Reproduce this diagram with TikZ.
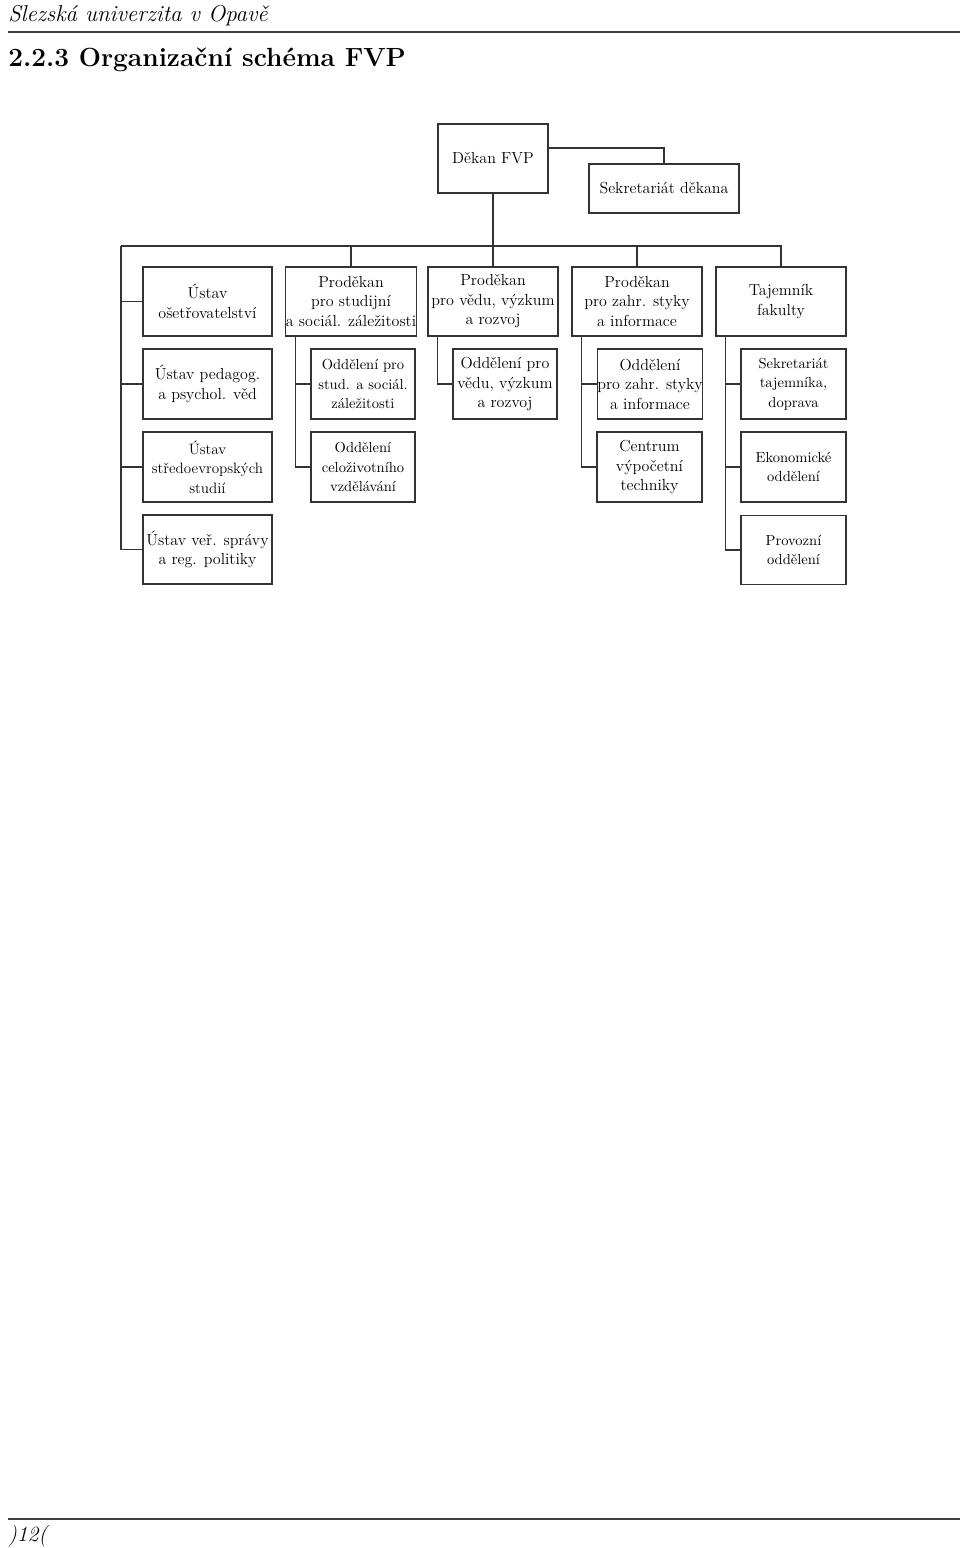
\documentclass[tikz,border=0pt]{standalone}
\usepackage{fontspec}
\begin{document}
\begin{tikzpicture}[x=0.75pt,y=-0.75pt,
  box/.style={draw=black!80,line width=0.85pt,inner sep=0pt,align=center,
    font=\fontsize{12}{14.6}\selectfont},
  smallbox/.style={box,font=\fontsize{10.9}{14.6}\selectfont},
  conn/.style={draw=black!80,line width=0.85pt},
  rule/.style={draw=black!75,line width=1.6pt}]
\useasboundingbox (0,0) rectangle (960,1548);
% header
\node[anchor=base west,inner sep=0pt,font=\fontsize{17.2}{20}\selectfont\itshape] (hdr) at (8,22) {Slezská univerzita v Opavě};
\coordinate (hl) at (8,32);
\coordinate (hr) at (960,32);
\draw[rule] (hl) -- (hr);
\node[anchor=base west,inner sep=0pt,font=\fontsize{19.7}{23}\selectfont\bfseries] (title) at (8,67) {2.2.3 Organizační schéma FVP};
% footer
\coordinate (fl) at (8,1519);
\coordinate (fr) at (960,1519);
\draw[rule] (fl) -- (fr);
\node[anchor=base west,inner sep=0pt,font=\fontsize{16.2}{19}\selectfont\itshape] (pg) at (8,1541) {)12(};

% boxes
\node[box,minimum width=110*0.75pt,minimum height=69*0.75pt] (dekan) at (493,158.5) {Děkan FVP};
\node[box,minimum width=150*0.75pt,minimum height=49*0.75pt] (sekr) at (664,188.5) {Sekretariát děkana};

\node[box,minimum width=129*0.75pt,minimum height=69*0.75pt] (u1) at (207.5,301.5) {Ústav\\ošetřovatelství};
\node[box,minimum width=130*0.75pt,minimum height=69*0.75pt] (pds) at (351,301.5) {Proděkan\\pro studijní\\a sociál. záležitosti};
\node[box,minimum width=130*0.75pt,minimum height=69*0.75pt] (pdv) at (493,301.5) {Proděkan\\pro vědu, výzkum\\a rozvoj};
\node[box,minimum width=130*0.75pt,minimum height=69*0.75pt] (pdz) at (637,301.5) {Proděkan\\pro zahr. styky\\a informace};
\node[box,minimum width=130*0.75pt,minimum height=69*0.75pt] (taj) at (781,301.5) {Tajemník\\fakulty};

\node[box,minimum width=129*0.75pt,minimum height=70*0.75pt] (u2) at (207.5,384) {Ústav pedagog.\\a psychol. věd};
\node[smallbox,minimum width=104*0.75pt,minimum height=70*0.75pt] (ods) at (363,384) {Oddělení pro\\stud. a sociál.\\záležitosti};
\node[box,minimum width=104*0.75pt,minimum height=70*0.75pt] (odv) at (505,384) {Oddělení pro\\vědu, výzkum\\a rozvoj};
\node[box,minimum width=104*0.75pt,minimum height=70*0.75pt] (odz) at (650,384) {Oddělení\\pro zahr. styky\\a informace};
\node[smallbox,minimum width=105*0.75pt,minimum height=70*0.75pt] (sekt) at (793.5,384) {Sekretariát\\tajemníka,\\doprava};

\node[smallbox,minimum width=129*0.75pt,minimum height=70*0.75pt,font=\fontsize{11.3}{14.6}\selectfont] (u3) at (207.5,467) {Ústav\\středoevropských\\studií};
\node[smallbox,minimum width=104*0.75pt,minimum height=70*0.75pt] (celoz) at (363,467) {Oddělení\\celoživotního\\vzdělávání};
\node[box,minimum width=105*0.75pt,minimum height=70*0.75pt] (cvt) at (649.5,467) {Centrum\\výpočetní\\techniky};
\node[smallbox,minimum width=105*0.75pt,minimum height=70*0.75pt] (ekon) at (793.5,467) {Ekonomické\\oddělení};

\node[box,minimum width=129*0.75pt,minimum height=69*0.75pt] (u4) at (207.5,549.5) {Ústav veř. správy\\a reg. politiky};
\node[smallbox,minimum width=105*0.75pt,minimum height=69*0.75pt] (prov) at (793.5,550) {Provozní\\oddělení};

% connectors
\coordinate (barL) at (121,246);
\coordinate (barR) at (781,246);
\draw[conn] ([yshift=7.9pt]dekan.east) -| (sekr.north);
\draw[conn] (dekan.south) -- (dekan.south |- barL);
\draw[conn] (barL) -- (barR) -- (taj.north);
\draw[conn] (pds.north |- barL) -- (pds.north);
\draw[conn] (pdv.north |- barL) -- (pdv.north);
\draw[conn] (pdz.north |- barL) -- (pdz.north);
\draw[conn] (barL) |- (u4.west);
\draw[conn] (u1.west -| barL) -- (u1.west);
\draw[conn] (u2.west -| barL) -- (u2.west);
\draw[conn] (u3.west -| barL) -- (u3.west);

\draw[conn] ([xshift=7.5pt]pds.south west) coordinate (vs) |- (celoz.west);
\draw[conn] (ods.west -| vs) -- (ods.west);
\draw[conn] ([xshift=7.5pt]pdv.south west) |- (odv.west);
\draw[conn] ([xshift=7.5pt]pdz.south west) coordinate (vz) |- (cvt.west);
\draw[conn] (odz.west -| vz) -- (odz.west);
\draw[conn] ([xshift=7.5pt]taj.south west) coordinate (vt) |- (prov.west);
\draw[conn] (sekt.west -| vt) -- (sekt.west);
\draw[conn] (ekon.west -| vt) -- (ekon.west);
\end{tikzpicture}
\end{document}
